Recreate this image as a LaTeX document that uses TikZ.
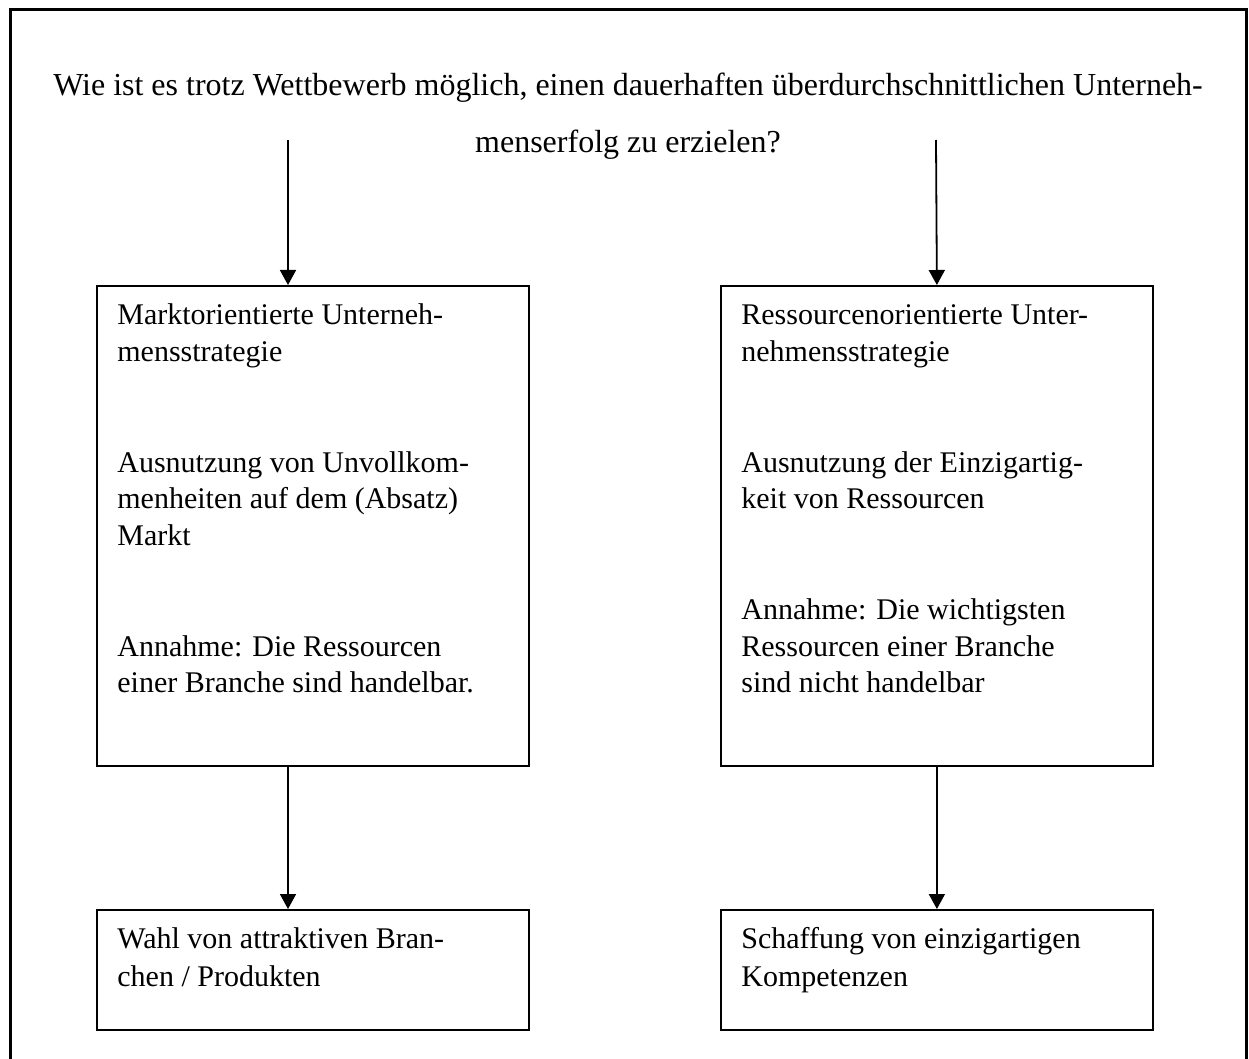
\documentclass[tikz,border=0pt]{standalone}
\usepackage{fontspec}
\setmainfont{Liberation Serif}
\usetikzlibrary{arrows.meta}
% stack of left-aligned lines with a fixed baseline distance;
% the stack's baseline is that of its first line
\newcommand\linestack[2]{\vtop{\baselineskip=#1\lineskiplimit=-\maxdimen\lineskip=0pt #2}}
\begin{document}
\begin{tikzpicture}[x=0.5pt,y=-0.5pt,
  box/.style={draw,line width=0.9pt,rectangle,inner sep=0pt,anchor=north west,minimum width=216pt},
  txt/.style={inner sep=0pt,anchor=base west,font=\fontsize{15pt}{18.4pt}\selectfont},
  heading/.style={inner sep=0pt,anchor=base,font=\fontsize{16pt}{28.5pt}\selectfont},
  arr/.style={line width=0.9pt,-{Triangle[length=7.5pt,width=8pt]}},
]
\useasboundingbox (0,0) rectangle (1249,1059);

% open outer frame
\draw[line width=1.5pt] (10,1059) -- (10,10) -- (1246,10) -- (1246,1059);

% guiding question, two centred lines
\node[heading] (q) at (628,96) {\vtop{\baselineskip=28.5pt\lineskiplimit=-\maxdimen\lineskip=0pt
  \halign{\hfil#\hfil\cr
  Wie ist es trotz Wettbewerb möglich, einen dauerhaften überdurchschnittlichen Unterneh-\cr
  menserfolg zu erzielen?\cr}}};

% boxes
\node[box,minimum height=240pt] (mkt) at (96,285) {};
\node[box,minimum height=240pt] (res) at (720,285) {};
\node[box,minimum height=60pt] (wahl) at (96,909) {};
\node[box,minimum height=60pt] (komp) at (720,909) {};

% box texts
\node[txt] (mktT) at (117,325) {\linestack{18.4pt}{%
  \hbox{Marktorientierte Unterneh-}\hbox{mensstrategie}\hbox{}\hbox{}%
  \hbox{Ausnutzung von Unvollkom-}\hbox{menheiten auf dem (Absatz)}\hbox{Markt}\hbox{}\hbox{}%
  \hbox{Annahme: Die Ressourcen}\hbox{einer Branche sind handelbar.}}};
\node[txt] (resT) at (741,325) {\linestack{18.4pt}{%
  \hbox{Ressourcenorientierte Unter-}\hbox{nehmensstrategie}\hbox{}\hbox{}%
  \hbox{Ausnutzung der Einzigartig-}\hbox{keit von Ressourcen}\hbox{}\hbox{}%
  \hbox{Annahme: Die wichtigsten}\hbox{Ressourcen einer Branche}\hbox{sind nicht handelbar}}};
\node[txt] (wahlT) at (117,948) {\linestack{19pt}{%
  \hbox{Wahl von attraktiven Bran-}\hbox{chen / Produkten}}};
\node[txt] (kompT) at (741,948) {\linestack{19pt}{%
  \hbox{Schaffung von einzigartigen}\hbox{Kompetenzen}}};

% connectors
\coordinate (s1) at (288,140);
\coordinate (s2) at (936,140);
\draw[arr] (s1) -- (s1 |- mkt.north);
\draw[arr] (s2) -- (res.north);
\draw[arr] (s1 |- mkt.south) -- (s1 |- wahl.north);
\draw[arr] (res.south) -- (komp.north);
\end{tikzpicture}
\end{document}
